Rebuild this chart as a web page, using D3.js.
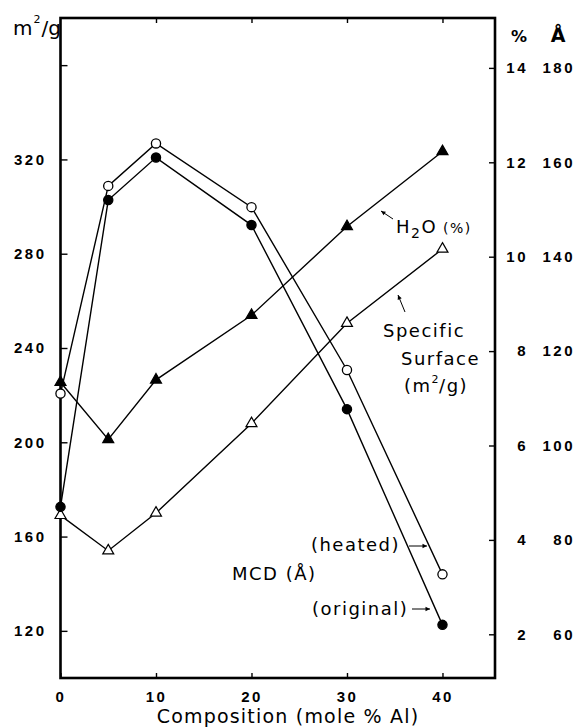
<!DOCTYPE html>
<html>
<head>
<meta charset="utf-8">
<script src="https://cdn.jsdelivr.net/npm/d3@7"></script>
<style>
  html, body { margin: 0; padding: 0; background: #fff; }
  svg { display: block; }
  .tick text { font-family: "Liberation Sans", Arial, sans-serif; font-weight: bold; font-size: 15px; letter-spacing: 2.5px; fill: #000; }
  .note { font-family: "DejaVu Sans", sans-serif; font-size: 18px; letter-spacing: 1.5px; fill: #000; }
</style>
</head>
<body>
<div id="chart"></div>
<script>
// composition (mole % Al) of each sample
const composition = [0, 5, 10, 20, 30, 40];
// specific surface, m2/g (open triangles, left axis)
const surfaceArea = [169, 154, 170, 208, 250.5, 282];
// water content, % (filled triangles, right % axis)
const waterPct = [7.34, 6.13, 7.39, 8.76, 10.64, 12.23];
// mean crystallite dimension, angstrom (right Å axis)
const mcdHeated = [111, 155, 164, 150.5, 116, 72.7];
const mcdOriginal = [87, 152, 161, 146.7, 107.7, 62];

const xTicks = [0, 10, 20, 30, 40];
const surfaceTicks = [120, 160, 200, 240, 280, 320, 360];
const pctTicks = [2, 4, 6, 8, 10, 12, 14];
const angTicks = [60, 80, 100, 120, 140, 160, 180];

const width = 576;
const height = 728;
const frame = { left: 60.5, right: 495, top: 18, bottom: 678 };

const svg = d3.select("#chart")
    .append("svg")
    .attr("width", width)
    .attr("height", height);

const x = d3.scaleLinear().domain([0, 45.5]).range([frame.left, frame.right]);
const yLeft = d3.scaleLinear().domain([100, 380]).range([frame.bottom, frame.top]);
// the right scale is drawn a few pixels lower than the left one in the original
const yPct = d3.scaleLinear().domain([1, 15]).range([681.5, 20.7]);
const yAng = d3.scaleLinear().domain([50, 190]).range([681.5, 20.7]);

// axes
svg.append("g")
    .attr("transform", `translate(${frame.left},0)`)
    .call(d3.axisLeft(yLeft)
        .tickValues(surfaceTicks)
        .tickSize(-7)
        .tickPadding(14)
        .tickFormat(d => d <= 320 ? d : ""));

svg.append("g")
    .attr("transform", `translate(0,${frame.bottom})`)
    .call(d3.axisBottom(x)
        .tickValues(xTicks)
        .tickSize(-5)
        .tickPadding(13));

svg.append("g")
    .attr("transform", `translate(0,${frame.top})`)
    .call(d3.axisTop(x)
        .tickValues(xTicks.slice(1))
        .tickSize(-5)
        .tickFormat(""));

const pctAxis = svg.append("g")
    .attr("transform", `translate(${frame.right},0)`)
    .call(d3.axisRight(yPct)
        .tickValues(pctTicks)
        .tickSize(-6)
        .tickPadding(33));
pctAxis.selectAll("text").attr("text-anchor", "end");

const angAxis = svg.append("g")
    .attr("transform", `translate(${frame.right},0)`)
    .call(d3.axisRight(yAng)
        .tickValues(angTicks)
        .tickSize(0)
        .tickPadding(80));
angAxis.selectAll("text").attr("text-anchor", "end");

svg.selectAll(".domain").remove();
svg.selectAll(".tick line").attr("stroke", "#000").attr("stroke-width", 1.4);

// frame
svg.append("rect")
    .attr("x", frame.left)
    .attr("y", frame.top)
    .attr("width", frame.right - frame.left)
    .attr("height", frame.bottom - frame.top)
    .attr("fill", "none")
    .attr("stroke", "#000")
    .attr("stroke-width", 2.6);

// series
const series = [
    { values: surfaceArea, y: yLeft, marker: "triangle", filled: false },
    { values: waterPct, y: yPct, marker: "triangle", filled: true },
    { values: mcdHeated, y: yAng, marker: "circle", filled: false },
    { values: mcdOriginal, y: yAng, marker: "circle", filled: true }
];

series.forEach(s => {
    const line = d3.line()
        .x((d, i) => x(composition[i]))
        .y(d => s.y(d));

    svg.append("path")
        .datum(s.values)
        .attr("d", line)
        .attr("fill", "none")
        .attr("stroke", "#000")
        .attr("stroke-width", 1.4);
});

series.forEach(s => {
    const g = svg.append("g");
    if (s.marker === "circle") {
        g.selectAll("circle")
            .data(s.values)
            .join("circle")
            .attr("cx", (d, i) => x(composition[i]))
            .attr("cy", d => s.y(d))
            .attr("r", 4.6)
            .attr("fill", s.filled ? "#000" : "#fff")
            .attr("stroke", "#000")
            .attr("stroke-width", 1.3);
    } else {
        g.selectAll("path")
            .data(s.values)
            .join("path")
            .attr("transform", (d, i) => `translate(${x(composition[i])},${s.y(d)})`)
            .attr("d", d3.symbol(d3.symbolTriangle, 52))
            .attr("fill", s.filled ? "#000" : "#fff")
            .attr("stroke", "#000")
            .attr("stroke-width", 1.2);
    }
});

// axis titles
const unitLeft = svg.append("text")
    .attr("class", "note")
    .attr("x", 13)
    .attr("y", 35)
    .style("font-size", "20px")
    .style("letter-spacing", "0px");
unitLeft.append("tspan").text("m");
unitLeft.append("tspan").attr("dy", -12).attr("dx", 1).style("font-size", "11px").text("2");
unitLeft.append("tspan").attr("dy", 12).attr("dx", 1).text("/g");

svg.append("text")
    .attr("class", "note")
    .attr("x", 519)
    .attr("y", 42)
    .attr("text-anchor", "middle")
    .style("font-weight", "bold")
    .style("font-size", "16px")
    .style("letter-spacing", "0px")
    .text("%");

svg.append("text")
    .attr("class", "note")
    .attr("x", 558)
    .attr("y", 42)
    .attr("text-anchor", "middle")
    .style("font-weight", "bold")
    .style("font-size", "19px")
    .style("letter-spacing", "0px")
    .text("Å");

svg.append("text")
    .attr("class", "note")
    .attr("x", 288)
    .attr("y", 723)
    .attr("text-anchor", "middle")
    .style("font-size", "19px")
    .style("letter-spacing", "1.2px")
    .text("Composition (mole % Al)");

// annotations
const h2o = svg.append("text")
    .attr("class", "note")
    .attr("x", 396)
    .attr("y", 233);
h2o.append("tspan").text("H");
h2o.append("tspan").attr("dy", 5).style("font-size", "14px").text("2");
h2o.append("tspan").attr("dy", -5).text("O");
h2o.append("tspan").style("font-size", "14px").text(" (%)");

svg.append("text").attr("class", "note").attr("x", 383).attr("y", 337).text("Specific");
svg.append("text").attr("class", "note").attr("x", 401).attr("y", 365).text("Surface");
const unitNote = svg.append("text").attr("class", "note").attr("x", 404).attr("y", 392);
unitNote.append("tspan").text("(m");
unitNote.append("tspan").attr("dy", -9).style("font-size", "11px").text("2");
unitNote.append("tspan").attr("dy", 9).attr("dx", -1).text("/g)");

svg.append("text").attr("class", "note").attr("x", 400).attr("y", 551).attr("text-anchor", "end").text("(heated)");
svg.append("text").attr("class", "note").attr("x", 232).attr("y", 580).text("MCD (Å)");
svg.append("text").attr("class", "note").attr("x", 312).attr("y", 615).text("(original)");

const arrow = (x1, y1, x2, y2) => {
    const angle = Math.atan2(y2 - y1, x2 - x1);
    const len = 5;
    const spread = 0.45;
    svg.append("line")
        .attr("x1", x1).attr("y1", y1)
        .attr("x2", x2).attr("y2", y2)
        .attr("stroke", "#000")
        .attr("stroke-width", 1);
    svg.append("path")
        .attr("d", d3.line()([
            [x2, y2],
            [x2 - len * Math.cos(angle - spread), y2 - len * Math.sin(angle - spread)],
            [x2 - len * Math.cos(angle + spread), y2 - len * Math.sin(angle + spread)]
        ]) + "Z")
        .attr("fill", "#000");
};

arrow(393, 219, 381, 211);
arrow(405, 312, 398, 295);
arrow(409, 546, 427, 546);
arrow(412, 609, 430, 609);
</script>
</body>
</html>
